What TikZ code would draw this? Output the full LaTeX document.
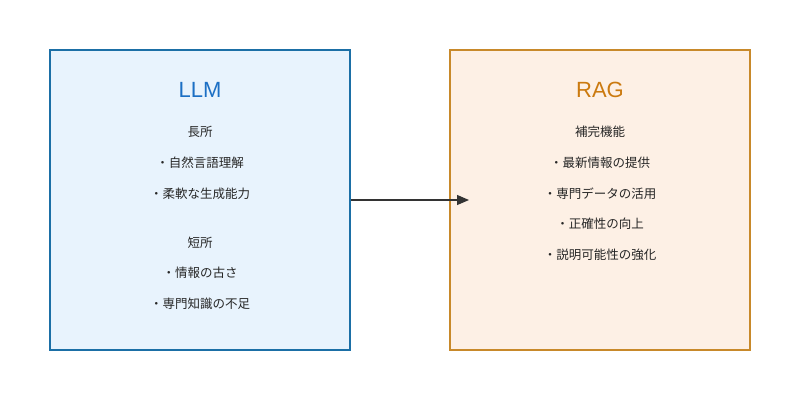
\documentclass[tikz,border=0pt]{standalone}
\usepackage{fontspec}
\setmainfont{Noto Sans CJK JP}
\newfontfamily\titlefont{Liberation Sans}
\usetikzlibrary{arrows.meta}
\definecolor{lbfill}{HTML}{E8F3FD}
\definecolor{lbdraw}{HTML}{1B6FA6}
\definecolor{ltitle}{HTML}{1C6FC4}
\definecolor{rfill}{HTML}{FDF0E5}
\definecolor{rdraw}{HTML}{C8892A}
\definecolor{rtitle}{HTML}{CB7A0F}
\begin{document}
\begin{tikzpicture}[x=1pt,y=-1pt,
  box/.style={draw,line width=1.5pt,minimum width=300pt,minimum height=300pt,inner sep=0pt},
  ttl/.style={font=\titlefont\fontsize{22}{24}\selectfont},
  txt/.style={font=\fontsize{12.5}{14}\selectfont,text=black!85}]
\useasboundingbox (0,0) rectangle (800,400);
\fill[white] (0,0) rectangle (800,400);
\node[box,fill=lbfill,draw=lbdraw] (llm) at (200,200) {};
\node[box,fill=rfill,draw=rdraw] (rag) at (600,200) {};
\coordinate (tip) at (469,200);
\draw[line width=1.2pt,black!80,-{Triangle[length=12pt,width=10pt]}] (llm.east) -- (tip);
\node[ttl,text=ltitle] (t1) at (200,90) {LLM};
\node[txt] (a1) at (200,132) {長所};
\node[txt] (a2) at (200,163) {・自然言語理解};
\node[txt] (a3) at (200,194) {・柔軟な生成能力};
\node[txt] (a4) at (200,243) {短所};
\node[txt] (a5) at (200,273) {・情報の古さ};
\node[txt] (a6) at (200,304) {・専門知識の不足};
\node[ttl,text=rtitle] (t2) at (600,90) {RAG};
\node[txt] (b1) at (600,132) {補完機能};
\node[txt] (b2) at (600,163) {・最新情報の提供};
\node[txt] (b3) at (600,194) {・専門データの活用};
\node[txt] (b4) at (600,224) {・正確性の向上};
\node[txt] (b5) at (600,255) {・説明可能性の強化};
\end{tikzpicture}
\end{document}
